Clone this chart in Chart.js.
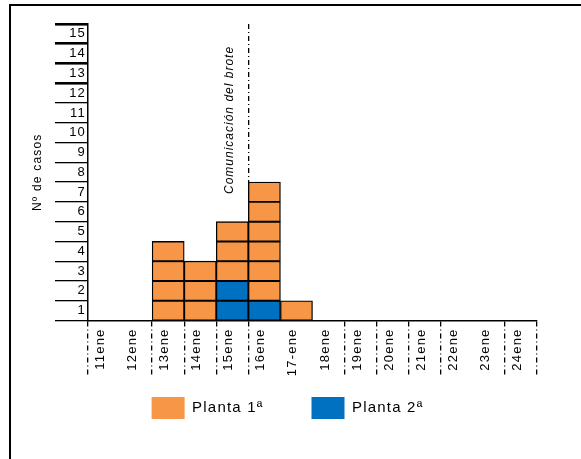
<!DOCTYPE html>
<html>
<head>
<meta charset="utf-8">
<script src="https://cdn.jsdelivr.net/npm/chart.js@4/dist/chart.umd.min.js"></script>
<style>
  html, body { margin: 0; padding: 0; background: #fff; }
  #wrap { position: relative; width: 581px; height: 459px; overflow: hidden; }
  #frame { position: absolute; left: 9px; top: 4px; right: -4px; bottom: -4px; border-top: 2px solid #000; border-left: 2px solid #000; }
  #curva { position: absolute; left: 0; top: 0; }
</style>
</head>
<body>
<div id="wrap">
  <div id="frame"></div>
  <canvas id="curva" width="581" height="459"></canvas>
</div>
<script>
'use strict';

// DATOS

let fechas = ['11ene', '12ene', '13ene', '14ene', '15ene', '16ene', '17-ene',
  '18ene', '19ene', '20ene', '21ene', '22ene', '23ene', '24ene'];
let planta1 = [0, 0, 4, 3, 3, 6, 1, 0, 0, 0, 0, 0, 0, 0];
let planta2 = [0, 0, 0, 0, 2, 1, 0, 0, 0, 0, 0, 0, 0, 0];
let casosLabels = ['15', '14', '13', '12', '11', '10', '9', '8', '7', '6', '5', '4', '3', '2', '1'];
let seriesNames = ['Planta 1ª', 'Planta 2ª'];
let seriesColors = ['#F79646', '#0070C0'];

let broteFecha = '16ene';
let broteTexto = 'Comunicación del brote';

// separaciones entre días que llevan trazo discontinuo bajo el eje
let tickDashed = [0, 2, 3, 4, 5, 8, 9, 10, 11, 13, 14];

let fontFamily = "'Liberation Sans', Arial, sans-serif";
let dashDot = [5, 3, 1, 3];

// cada caso es una caja: un dataset por nivel, planta 2ª abajo
function unitDatasets(values, color, key) {
  let sets = [];
  let max = Math.max(...values);
  for (let k = 1; k <= max; k++) {
    sets.push({
      label: key + ' ' + k,
      data: values.map(v => (v >= k ? 1 : null)),
      backgroundColor: color,
      borderColor: '#000',
      borderWidth: 1.3,
      borderSkipped: false,
      barPercentage: 1,
      categoryPercentage: 1,
      stack: 'casos'
    });
  }
  return sets;
}

let datasets = unitDatasets(planta2, seriesColors[1], seriesNames[1])
  .concat(unitDatasets(planta1, seriesColors[0], seriesNames[0]));

// espaciado de letras como en el original
const textSpacing = {
  id: 'textSpacing',
  beforeUpdate(chart) { chart.ctx.letterSpacing = '1.2px'; },
  beforeDraw(chart) { chart.ctx.letterSpacing = '1.2px'; }
};

// rótulo vertical junto a la línea del brote
const broteLabel = {
  id: 'broteLabel',
  afterDatasetsDraw(chart) {
    const {ctx, scales: {x, y}} = chart;
    let i = fechas.indexOf(broteFecha);
    let xLine = (x.getPixelForValue(i - 1) + x.getPixelForValue(i)) / 2;
    ctx.save();
    ctx.letterSpacing = '1px';
    ctx.translate(xLine - 19, y.getPixelForValue(6.4));
    ctx.rotate(-Math.PI / 2);
    ctx.font = 'italic 12px ' + fontFamily;
    ctx.fillStyle = '#000';
    ctx.textAlign = 'left';
    ctx.textBaseline = 'middle';
    ctx.fillText(broteTexto, 0, 0);
    ctx.restore();
  }
};

Chart.defaults.font.family = fontFamily;
Chart.defaults.color = '#000';

let ctx = document.getElementById('curva').getContext('2d');

new Chart(ctx, {
  type: 'bar',
  data: { labels: fechas, datasets: datasets },
  plugins: [textSpacing, broteLabel],
  options: {
    responsive: false,
    animation: false,
    layout: { padding: { left: 38, right: 44, top: 24, bottom: 30 } },
    plugins: {
      tooltip: { enabled: false },
      legend: {
        position: 'bottom',
        labels: {
          boxWidth: 33,
          boxHeight: 22,
          padding: 48,
          color: '#222',
          font: { size: 15 },
          generateLabels: () => seriesNames.map((name, i) => ({
            text: name,
            fillStyle: seriesColors[i],
            strokeStyle: seriesColors[i],
            lineWidth: 0,
            hidden: false,
            datasetIndex: i
          }))
        }
      }
    },
    scales: {
      x: {
        stacked: true,
        offset: true,
        afterFit(scale) { scale.height = 28.5; },
        border: { color: '#000', width: 1.5, dash: dashDot },
        grid: {
          offset: true,
          drawOnChartArea: true,
          color: c => (c.index === fechas.indexOf(broteFecha) ? '#000' : 'rgba(0,0,0,0)'),
          lineWidth: 1.3,
          tickLength: 55,
          tickWidth: 1.3,
          tickBorderDash: dashDot,
          tickColor: c => (tickDashed.includes(c.index === undefined ? fechas.length : c.index) ? '#000' : 'rgba(0,0,0,0)')
        },
        ticks: {
          autoSkip: false,
          minRotation: 90,
          maxRotation: 90,
          mirror: true,
          padding: -8,
          labelOffset: 12,
          font: { size: 13 }
        }
      },
      y: {
        display: false,
        stacked: true,
        min: 0,
        max: casosLabels.length
      },
      yc: {
        type: 'category',
        position: 'left',
        labels: casosLabels,
        offset: true,
        afterFit(scale) { scale.width = 50; },
        border: { color: '#000', width: 1.5 },
        title: {
          display: true,
          text: 'Nº de casos',
          font: { size: 12 },
          padding: { top: -8, bottom: 0 }
        },
        grid: {
          offset: true,
          drawOnChartArea: false,
          tickLength: 33,
          color: '#000',
          lineWidth: c => (c.index !== undefined && c.index < 4 ? 2.6 : 1.3),
          tickWidth: c => (c.index !== undefined && c.index < 4 ? 2.6 : 1.3),
          tickColor: '#000'
        },
        ticks: {
          autoSkip: false,
          padding: -31,
          font: { size: 13 }
        }
      }
    }
  }
});
</script>
</body>
</html>
